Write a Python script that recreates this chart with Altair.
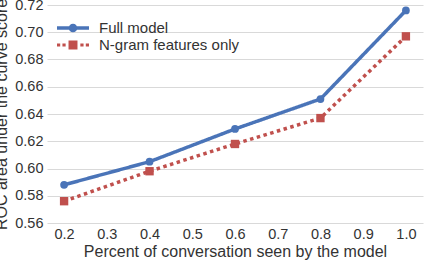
import altair as alt
import pandas as pd

# Share of the conversation the model has seen
pct_seen = [0.2, 0.4, 0.6, 0.8, 1.0]
# ROC AUC per setting
full_model = [0.588, 0.605, 0.629, 0.651, 0.716]
ngram_only = [0.576, 0.598, 0.618, 0.637, 0.697]

series_names = ["Full model", "N-gram features only"]
series_colors = ["#4a74b8", "#c0504d"]
series_dash = [[1, 0], [3.5, 3.5]]
series_shape = ["circle", "square"]
series_size = [60, 70]
y_ticks = [0.56, 0.58, 0.60, 0.62, 0.64, 0.66, 0.68, 0.70, 0.72]
x_ticks = [0.2, 0.3, 0.4, 0.5, 0.6, 0.7, 0.8, 0.9, 1.0]

rows = []
for name, vals in zip(series_names, [full_model, ngram_only]):
    for p, v in zip(pct_seen, vals):
        rows.append({"series": name, "pct": p, "auc": v})
df = pd.DataFrame(rows)

FONT = "Liberation Sans"
TEXT = "#333333"

# legend glyphs: a line with a marker in the middle
# (path units are a quarter of the glyph width)
glyph_full = (
    "M -2 -0.21 L 2 -0.21 L 2 0.21 L -2 0.21 Z "
    "M 0.54 0 A 0.54 0.54 0 1 1 -0.54 0 A 0.54 0.54 0 1 1 0.54 0 Z"
)
def sq(cx, h):
    return f"M {cx-h} {-h} L {cx+h} {-h} L {cx+h} {h} L {cx-h} {h} Z "
glyph_ngram = (
    sq(-1.8, 0.2) + sq(-1.12, 0.2) + sq(0, 0.56) + sq(1.12, 0.2) + sq(1.8, 0.2)
).strip()

x_enc = alt.X(
    "pct:Q",
    scale=alt.Scale(domain=[0.16, 1.04], nice=False, zero=False),
    axis=alt.Axis(
        values=x_ticks, format=".1f", grid=False, domain=False, ticks=False,
        labelPadding=4, title="Percent of conversation seen by the model",
        titlePadding=3,
    ),
)
y_enc = alt.Y(
    "auc:Q",
    scale=alt.Scale(domain=[0.56, 0.72], nice=False, zero=False),
    axis=alt.Axis(
        values=y_ticks, format=".2f", grid=True, domain=False, ticks=False,
        labelPadding=4, labelOverlap=False,
        title="ROC area under the curve score", titlePadding=5,
    ),
)

layers = []
for i, name in enumerate(series_names):
    base = alt.Chart(df).transform_filter(alt.datum.series == name)
    layers.append(
        base.mark_line(
            strokeWidth=3.5, strokeCap="butt", color=series_colors[i],
            strokeDash=series_dash[i],
        ).encode(x=x_enc, y=y_enc)
    )
    layers.append(
        base.mark_point(
            shape=series_shape[i], filled=True, size=series_size[i],
            opacity=1, color=series_colors[i],
        ).encode(x=x_enc, y=y_enc)
    )

legend_def = alt.Legend(
    title=None, orient="none", legendX=18, legendY=15,
    symbolSize=256, labelFontSize=15, labelColor=TEXT, labelFont=FONT,
    labelOffset=18, rowPadding=1, padding=0, symbolStrokeWidth=0,
    symbolOpacity=1,
)
key = alt.Chart(df).mark_point(filled=True, opacity=0).encode(
    x=x_enc, y=y_enc,
    color=alt.Color(
        "series:N", scale=alt.Scale(domain=series_names, range=series_colors),
        legend=legend_def,
    ),
    shape=alt.Shape(
        "series:N",
        scale=alt.Scale(domain=series_names, range=[glyph_full, glyph_ngram]),
        legend=legend_def,
    ),
)
layers.append(key)

chart = (
    alt.layer(*layers)
    .properties(
        width=376, height=218,
        autosize=alt.AutoSizeParams(type="none"),
        padding={"left": 47, "top": 5, "right": 5, "bottom": 37},
        background="white",
    )
    .configure_view(stroke=None)
    .configure_axis(
        labelFont=FONT, titleFont=FONT, labelFontSize=14.5, titleFontSize=16,
        labelColor=TEXT, titleColor=TEXT, titleFontWeight="normal",
        gridColor="#d9d9d9", gridWidth=1,
    )
)

chart.save("out.html", embed_options={"renderer": "svg", "actions": False})
